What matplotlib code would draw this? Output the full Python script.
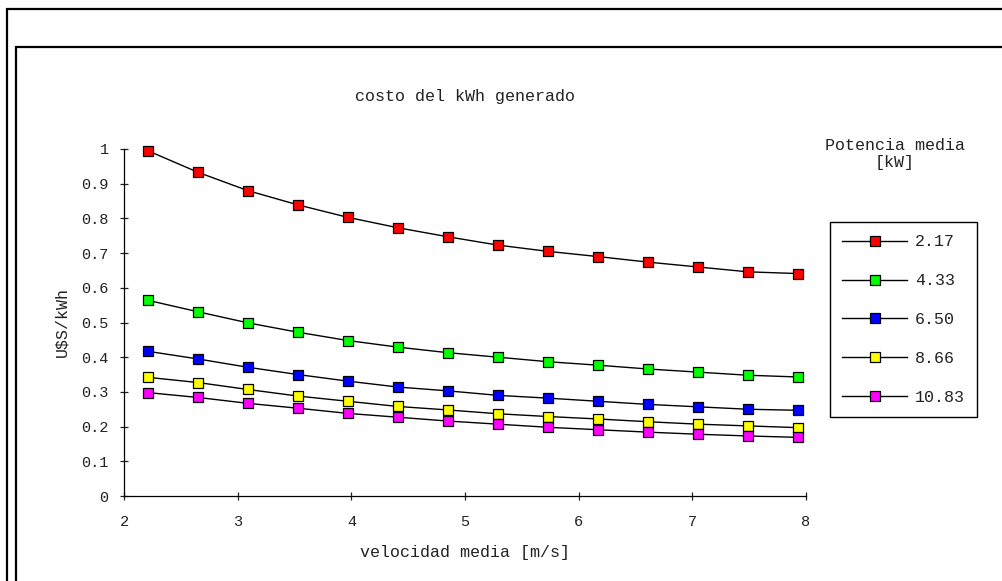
import matplotlib
matplotlib.use('Agg')
import matplotlib.pyplot as plt
from matplotlib.patches import Rectangle

plt.rcParams['font.family'] = ['Liberation Mono', 'DejaVu Sans Mono']

velocidad = [2.21, 2.65, 3.09, 3.53, 3.97, 4.41, 4.85, 5.29, 5.73, 6.17, 6.61, 7.05, 7.49, 7.93]

costo_217 = [0.995, 0.933, 0.880, 0.839, 0.803, 0.773, 0.747, 0.723, 0.705, 0.690, 0.674, 0.660, 0.646, 0.641]
costo_433 = [0.564, 0.531, 0.499, 0.472, 0.448, 0.429, 0.413, 0.400, 0.387, 0.377, 0.366, 0.357, 0.348, 0.343]
costo_650 = [0.417, 0.395, 0.371, 0.350, 0.331, 0.314, 0.303, 0.290, 0.282, 0.273, 0.264, 0.257, 0.250, 0.247]
costo_866 = [0.342, 0.327, 0.307, 0.288, 0.273, 0.258, 0.248, 0.237, 0.229, 0.222, 0.214, 0.207, 0.202, 0.197]
costo_1083 = [0.298, 0.284, 0.267, 0.253, 0.238, 0.227, 0.216, 0.207, 0.198, 0.191, 0.184, 0.178, 0.173, 0.169]

series = [costo_217, costo_433, costo_650, costo_866, costo_1083]
etiquetas = ['2.17', '4.33', '6.50', '8.66', '10.83']
colores = ['#ff0000', '#00ff00', '#0000ff', '#ffff00', '#ff00ff']

x_ticks = [2, 3, 4, 5, 6, 7, 8]
y_ticks = [0, 0.1, 0.2, 0.3, 0.4, 0.5, 0.6, 0.7, 0.8, 0.9, 1]
y_labels = ['0', '0.1', '0.2', '0.3', '0.4', '0.5', '0.6', '0.7', '0.8', '0.9', '1']

W, H = 1003, 581
fig = plt.figure(figsize=(W / 100, H / 100), dpi=100)

# marcos exteriores (cortados por el borde derecho e inferior)
fig.patches.append(Rectangle((7 / W, -0.1), 1.2, 1 - 9 / H + 0.1, transform=fig.transFigure,
                             fill=False, edgecolor='black', linewidth=1.6))
fig.patches.append(Rectangle((16 / W, -0.1), 1.2, 1 - 47 / H + 0.1, transform=fig.transFigure,
                             fill=False, edgecolor='black', linewidth=1.6))

ax = fig.add_axes([124 / W, 1 - 496 / H, (806 - 124) / W, (496 - 149) / H])
for y, lab, col in zip(series, etiquetas, colores):
    ax.plot(velocidad, y, color='black', linewidth=1, marker='s', markersize=7,
            markerfacecolor=col, markeredgecolor='black', markeredgewidth=0.9,
            label=lab, clip_on=False)

ax.set_xlim(2, 8)
ax.set_ylim(0, 1)
ax.set_xticks(x_ticks)
ax.set_xticklabels([str(v) for v in x_ticks])
ax.set_yticks(y_ticks)
ax.set_yticklabels(y_labels)
ax.spines['top'].set_visible(False)
ax.spines['right'].set_visible(False)
ax.spines['left'].set_linewidth(0.9)
ax.spines['bottom'].set_linewidth(0.9)
ax.tick_params(axis='both', direction='inout', length=6, width=0.9, labelsize=11, colors='#222222')
ax.tick_params(axis='x', pad=11)
ax.tick_params(axis='y', pad=8)
ax.patch.set_alpha(0)

fig.text(465 / W, 1 - 97 / H, 'costo del kWh generado', ha='center', va='center', fontsize=12, color='#222222')
fig.text(465 / W, 1 - 553 / H, 'velocidad media [m/s]', ha='center', va='center', fontsize=12, color='#222222')
fig.text(62 / W, 1 - 322 / H, 'U$S/kWh', ha='center', va='center', rotation=90, fontsize=12, color='#222222')
fig.text(895 / W, 1 - 154 / H, 'Potencia media\n[kW]', ha='center', va='center', fontsize=12,
         linespacing=1.1, color='#222222')

leg = ax.legend(loc='upper left', bbox_to_anchor=(830 / W, 1 - 222 / H), bbox_transform=fig.transFigure,
                fontsize=12, frameon=True, fancybox=False, edgecolor='black', framealpha=1,
                borderpad=0.75, handlelength=3.9, handletextpad=0.45, labelspacing=1.43,
                borderaxespad=0, numpoints=1)
leg.get_frame().set_linewidth(1.0)
for t in leg.get_texts():
    t.set_color('#222222')

fig.savefig('out.png', dpi=100)
